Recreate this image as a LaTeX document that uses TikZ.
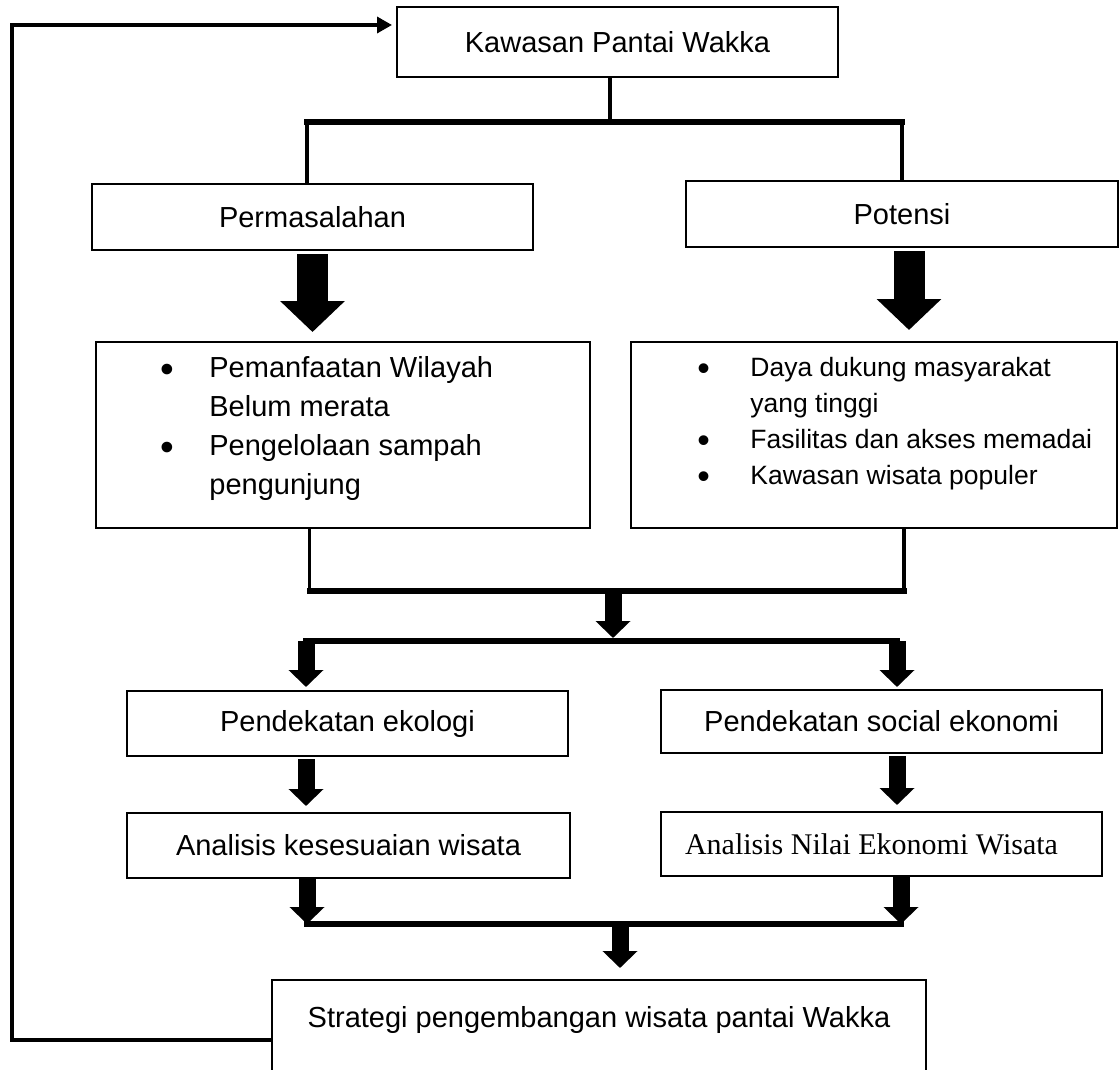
\documentclass[tikz,border=0pt]{standalone}
\usepackage{fontspec}
\setmainfont{Liberation Sans}
\newfontfamily\timesfont{Liberation Serif}
\usetikzlibrary{arrows.meta}
\newcommand{\titik}{\raisebox{-0.3ex}{\scalebox{1.35}{\textbullet}}}

\begin{document}
\begin{tikzpicture}[x=0.5pt,y=-0.5pt,
    kotak/.style={draw, line width=1pt, inner sep=0pt, font=\fontsize{14.5}{17.4}\selectfont},
    garis/.style={line width=1.6pt},
    garistebal/.style={line width=2.6pt, line cap=rect},
    panahkecil/.style={line width=8.5pt, -{Triangle[width=17pt,length=8.5pt]}},
    panahbesar/.style={line width=15.5pt, -{Triangle[width=31.5pt,length=15.5pt]}},
    balik/.style={line width=1.7pt, -{Triangle[width=8pt,length=7.5pt]}}]
    \useasboundingbox (0,0) rectangle (1120,1070);

    \node[kotak, minimum width=220.5pt, minimum height=35pt] (kawasan) at (617.5,42) {Kawasan Pantai Wakka};
    \node[kotak, minimum width=220.5pt, minimum height=33pt] (masalah) at (312.5,217) {Permasalahan};
    \node[kotak, minimum width=216pt, minimum height=33pt] (potensi) at (902,214) {Potensi};

    \node[kotak, minimum width=247pt, minimum height=93pt] (isimasalah) at (343,435) {};
    \node[kotak, minimum width=243pt, minimum height=93pt] (isipotensi) at (874,435) {};
    \node[anchor=north west, inner sep=0pt, align=left, font=\fontsize{14.5}{19.5}\selectfont] (teksmasalah) at (160,356)
        {\makebox[24.5pt][l]{\titik}Pemanfaatan Wilayah\\
         \hspace*{24.5pt}Belum merata\\
         \makebox[24.5pt][l]{\titik}Pengelolaan sampah\\
         \hspace*{24.5pt}pengunjung};
    \node[anchor=north west, inner sep=0pt, align=left, font=\fontsize{13.25}{18}\selectfont] (tekspotensi) at (697,357)
        {\makebox[26.5pt][l]{\titik}Daya dukung masyarakat\\
         \hspace*{26.5pt}yang tinggi\\
         \makebox[26.5pt][l]{\titik}Fasilitas dan akses memadai\\
         \makebox[26.5pt][l]{\titik}Kawasan wisata populer};

    \node[kotak, minimum width=220.5pt, minimum height=32.5pt] (ekologi) at (347.5,723.5) {Pendekatan ekologi};
    \node[kotak, minimum width=220.5pt, minimum height=31.5pt] (sosek) at (881.5,721.5) {Pendekatan social ekonomi};
    \node[kotak, minimum width=221.5pt, minimum height=32.5pt] (kesesuaian) at (348.5,845.5) {Analisis kesesuaian wisata};
    \node[kotak, minimum width=220.5pt, minimum height=32pt, font=\timesfont\fontsize{15}{18}\selectfont] (nilai) at (881.5,844) {Analisis Nilai Ekonomi Wisata\hspace*{10pt}};
    \node[kotak, minimum width=327pt, minimum height=60pt, align=center] (strategi) at (599,1040) {Strategi pengembangan wisata pantai Wakka\\[6pt]\mbox{}};

    % garis balik
    \coordinate (sudutbawah) at (12,1040);
    \coordinate (sudutatas) at (12,25);
    \draw[balik, shorten >=2pt] (strategi.west) -- (sudutbawah) -- (sudutatas) -- (kawasan.west |- sudutatas);

    % cabang atas
    \coordinate (cabang1) at (610,122);
    \coordinate (kiri1) at (307,122);
    \coordinate (kanan1) at (902,122);
    \draw[garis] (kawasan.south -| cabang1) -- (cabang1);
    \draw[garis] (kiri1) -- (kiri1 |- masalah.north);
    \draw[garis] (kanan1) -- (kanan1 |- potensi.north);
    \draw[garistebal] (kiri1) -- (kanan1);

    \draw[panahbesar, shorten <=1.5pt, shorten >=4.5pt] (masalah.south) -- (masalah.south |- isimasalah.north);
    \draw[panahbesar, shorten <=1.5pt, shorten >=5.5pt] ([xshift=3.5pt]potensi.south) -- ([xshift=3.5pt]potensi.south |- isipotensi.north);

    % gabungan
    \coordinate (kiri2) at (309.5,591);
    \coordinate (kanan2) at (904,591);
    \coordinate (tengah2) at (613,591);
    \draw[garis] (isimasalah.south -| kiri2) -- (kiri2);
    \draw[garis] (isipotensi.south -| kanan2) -- (kanan2);
    \draw[garistebal] (kiri2) -- (kanan2);

    \coordinate (kiri3) at (306,641);
    \coordinate (kanan3) at (897,641);
    \draw[panahkecil, shorten >=1.5pt] (tengah2) -- (tengah2 |- kiri3);
    \draw[garistebal] (kiri3) -- (kanan3);
    \draw[panahkecil, shorten >=1.5pt] (kiri3) -- (kiri3 |- ekologi.north);
    \draw[panahkecil, shorten >=1pt] (kanan3) -- (kanan3 |- sosek.north);

    \draw[panahkecil, shorten <=1pt, shorten >=3pt] (kiri3 |- ekologi.south) -- (kiri3 |- kesesuaian.north);
    \draw[panahkecil, shorten <=1pt, shorten >=3pt] (kanan3 |- sosek.south) -- (kanan3 |- nilai.north);

    % menuju strategi
    \coordinate (kiri4) at (307,924);
    \coordinate (kanan4) at (901,924);
    \coordinate (tengah4) at (620,924);
    \draw[panahkecil] (kiri4 |- kesesuaian.south) -- (kiri4);
    \draw[panahkecil] (kanan4 |- nilai.south) -- (kanan4);
    \draw[garistebal] (kiri4) -- (kanan4);
    \draw[panahkecil, shorten >=5.5pt] (tengah4) -- (tengah4 |- strategi.north);
\end{tikzpicture}
\end{document}
